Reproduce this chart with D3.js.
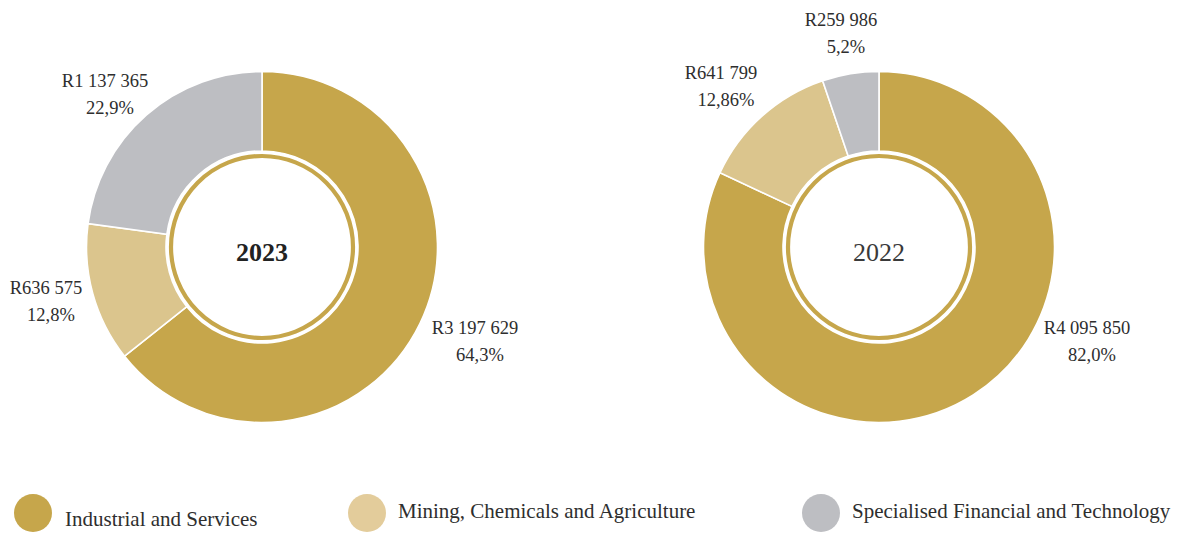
<!DOCTYPE html>
<html>
<head>
<meta charset="utf-8">
<script src="https://cdn.jsdelivr.net/npm/d3@7"></script>
<style>
  html, body { margin: 0; padding: 0; background: #fff; }
  text { font-family: "Liberation Serif", "DejaVu Serif", serif; fill: #2e2e2e; }
</style>
</head>
<body>
<div id="chart"></div>
<script>
// Sector split by year, two donuts side by side
const sectors = ["Industrial and Services", "Mining, Chemicals and Agriculture", "Specialised Financial and Technology"];
const years = ["2023", "2022"];
const values2023 = [3197629, 636575, 1137365];
const values2022 = [4095850, 641799, 259986];
const amountLabels2023 = ["R3 197 629", "R636 575", "R1 137 365"];
const amountLabels2022 = ["R4 095 850", "R641 799", "R259 986"];
const pctLabels2023 = ["64,3%", "12,8%", "22,9%"];
const pctLabels2022 = ["82,0%", "12,86%", "5,2%"];

const width = 1187, height = 534;
const outerR = 175.5, innerR = 96;

const color = d3.scaleOrdinal()
  .domain(sectors)
  .range(["#c6a64b", "#dbc58d", "#bdbec2"]);
const legendColor = d3.scaleOrdinal()
  .domain(sectors)
  .range(["#c6a64b", "#e3cc9b", "#bdbec2"]);

// label anchors (relative to each donut centre), picked by eye
const labelSpots = {
  "2023": [[213, 88], [-216, 48], [-157, -159]],
  "2022": [[208, 88], [-158, -167], [-38, -220]]
};

const charts = [
  { year: years[0], cx: 262, cy: 247, values: values2023, amounts: amountLabels2023, pcts: pctLabels2023, bold: true },
  { year: years[1], cx: 879, cy: 247, values: values2022, amounts: amountLabels2022, pcts: pctLabels2022, bold: false }
];

const svg = d3.select("#chart").append("svg")
  .attr("width", width)
  .attr("height", height);

const pie = d3.pie().sort(null).value(d => d.value);
const arc = d3.arc().innerRadius(innerR).outerRadius(outerR);

charts.forEach(c => {
  const g = svg.append("g").attr("transform", `translate(${c.cx},${c.cy})`);
  const data = sectors.map((s, i) => ({ sector: s, value: c.values[i] }));

  g.selectAll("path.slice")
    .data(pie(data))
    .join("path")
    .attr("class", "slice")
    .attr("d", arc)
    .attr("fill", d => color(d.data.sector))
    .attr("stroke", "#fff")
    .attr("stroke-width", 1.6);

  // thin gold inner ring
  g.append("circle")
    .attr("r", 91)
    .attr("fill", "#fff")
    .attr("stroke", "#c6a64b")
    .attr("stroke-width", 4.2);

  g.append("text")
    .attr("text-anchor", "middle")
    .attr("y", 14)
    .style("font-size", "26px")
    .style("font-weight", c.bold ? "bold" : "normal")
    .style("fill", c.bold ? "#222" : "#3a3a3a")
    .text(c.year);

  // value labels
  sectors.forEach((s, i) => {
    const [lx, ly] = labelSpots[c.year][i];
    const t = g.append("text")
      .attr("text-anchor", "middle")
      .style("font-size", "18.5px");
    t.append("tspan").attr("x", lx).attr("y", ly - 1).text(c.amounts[i]);
    t.append("tspan").attr("x", lx + 5).attr("y", ly + 26).text(c.pcts[i]);
  });
});

// legend
const legendX = [33, 367, 821];
const legendTextY = [526, 518, 518];
const legend = svg.append("g");
sectors.forEach((s, i) => {
  legend.append("circle")
    .attr("cx", legendX[i])
    .attr("cy", 513)
    .attr("r", 19)
    .attr("fill", legendColor(s));
  legend.append("text")
    .attr("x", legendX[i] + (i === 0 ? 32 : 31))
    .attr("y", legendTextY[i])
    .style("font-size", "21px")
    .text(s);
});
</script>
</body>
</html>
